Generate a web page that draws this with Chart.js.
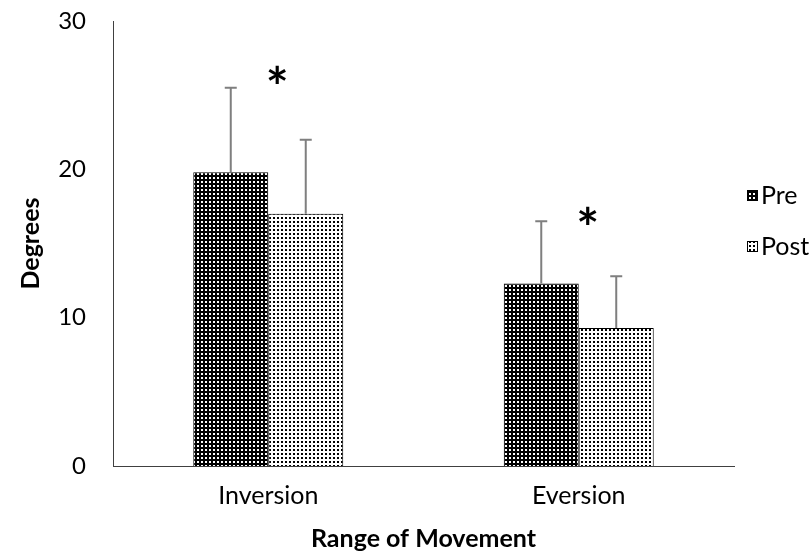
<!DOCTYPE html>
<html>
<head>
<meta charset="utf-8">
<script src="https://cdn.jsdelivr.net/npm/chart.js@4"></script>
<style>
    html, body { margin: 0; padding: 0; background: #fff; }
    #wrap { width: 810px; height: 557px; }
</style>
</head>
<body>
<div id="wrap"><canvas id="romChart" width="810" height="557"></canvas></div>
<script>
const categories = ['Inversion', 'Eversion'];
const preValues = [19.8, 12.3];
const postValues = [17.0, 9.3];
const preErrors = [5.7, 4.2];
const postErrors = [5.0, 3.5];
const starLabels = ['*', '*'];
const starValues = [26.4, 16.9];
const yTicks = [0, 10, 20, 30];

// dotted fills like the Excel pattern swatches
function makePattern(bg, dot) {
    const c = document.createElement('canvas');
    c.width = 4;
    c.height = 4;
    const p = c.getContext('2d');
    p.fillStyle = bg;
    p.fillRect(0, 0, 4, 4);
    p.fillStyle = dot;
    p.fillRect(1, 1, 2, 2);
    return p.createPattern(c, 'repeat');
}

const ctx = document.getElementById('romChart').getContext('2d');
const prePattern = makePattern('#000000', '#ffffff');
const postPattern = makePattern('#ffffff', '#000000');
const errorSets = [preErrors, postErrors];

const extras = {
    id: 'extras',
    afterDatasetsDraw(chart) {
        const c = chart.ctx;
        const y = chart.scales.y;
        c.save();
        c.strokeStyle = '#7f7f7f';
        c.lineWidth = 2;
        chart.data.datasets.forEach((ds, i) => {
            const meta = chart.getDatasetMeta(i);
            meta.data.forEach((bar, j) => {
                const top = y.getPixelForValue(ds.data[j] + errorSets[i][j]);
                c.beginPath();
                c.moveTo(bar.x, bar.y);
                c.lineTo(bar.x, top);
                c.moveTo(bar.x - 6, top);
                c.lineTo(bar.x + 6, top);
                c.stroke();
            });
        });

        // significance marks
        c.fillStyle = '#000';
        c.font = 'bold 54px Lato';
        c.textAlign = 'center';
        starLabels.forEach((s, j) => {
            const m = c.measureText(s);
            const cx = chart.scales.x.getPixelForValue(j) + 9;
            const cy = y.getPixelForValue(starValues[j]);
            const off = (m.actualBoundingBoxAscent - m.actualBoundingBoxDescent) / 2;
            c.fillText(s, cx, cy + off);
        });

        // legend on the right
        const lx = chart.chartArea.right + 13;
        let ly = chart.chartArea.top + 174;
        c.font = '25px Lato';
        c.textAlign = 'left';
        c.textBaseline = 'middle';
        chart.data.datasets.forEach(ds => {
            c.fillStyle = ds.backgroundColor;
            c.fillRect(lx, ly - 5, 11, 11);
            c.strokeStyle = '#000';
            c.lineWidth = 1;
            c.strokeRect(lx + 0.5, ly - 4.5, 10, 10);
            c.fillStyle = '#000';
            c.fillText(ds.label, lx + 14, ly + 1);
            ly += 51;
        });
        c.restore();
    }
};

new Chart(ctx, {
    type: 'bar',
    data: {
        labels: categories,
        datasets: [{
            label: 'Pre',
            data: preValues,
            backgroundColor: prePattern,
            borderColor: '#000',
            borderWidth: 1,
            barPercentage: 1,
            categoryPercentage: 0.483
        }, {
            label: 'Post',
            data: postValues,
            backgroundColor: postPattern,
            borderColor: '#000',
            borderWidth: 1,
            barPercentage: 1,
            categoryPercentage: 0.483
        }]
    },
    options: {
        responsive: false,
        animation: false,
        layout: {
            padding: { top: 0, right: 76, left: 0, bottom: 0 }
        },
        scales: {
            x: {
                grid: { display: false, drawTicks: false },
                border: { color: '#404040', width: 1 },
                ticks: {
                    color: '#000',
                    font: { family: 'Lato', size: 25 },
                    padding: 15
                },
                title: {
                    display: true,
                    text: 'Range of Movement',
                    color: '#000',
                    font: { family: 'Lato', size: 25, weight: 'bold' },
                    padding: { top: 0, bottom: 3 }
                },
                afterFit(scale) { scale.height = 91; }
            },
            y: {
                min: 0,
                max: 30,
                afterBuildTicks(scale) {
                    scale.ticks = yTicks.map(v => ({ value: v }));
                },
                grid: { display: false, drawTicks: false },
                border: { color: '#404040', width: 1 },
                ticks: {
                    color: '#000',
                    font: { family: 'Lato', size: 24 },
                    padding: 27
                },
                title: {
                    display: true,
                    text: 'Degrees',
                    color: '#000',
                    font: { family: 'Lato', size: 25, weight: 'bold' },
                    padding: { top: 16, bottom: 0 }
                },
                afterFit(scale) {
                    scale.width = 113;
                    scale.paddingTop = 21;
                    scale.paddingBottom = 0;
                }
            }
        },
        plugins: {
            legend: { display: false },
            tooltip: { enabled: false }
        }
    },
    plugins: [extras]
});
</script>
</body>
</html>
